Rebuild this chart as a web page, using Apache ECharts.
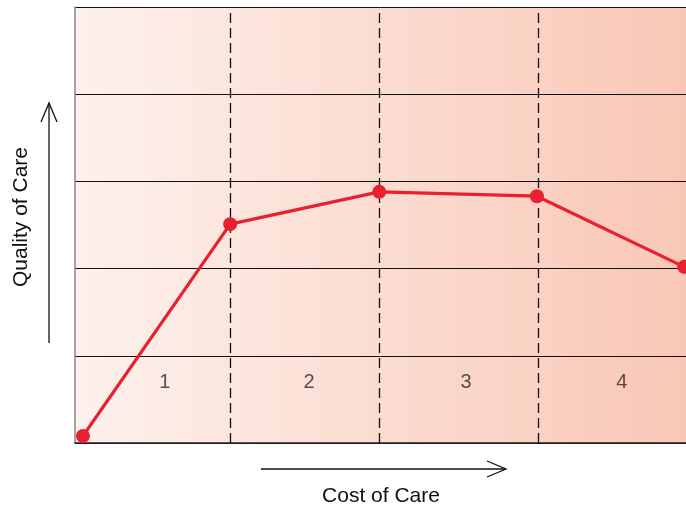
<!DOCTYPE html>
<html>
<head>
<meta charset="utf-8">
<script src="https://cdn.jsdelivr.net/npm/echarts@6/dist/echarts.min.js"></script>
<style>
  html, body { margin: 0; padding: 0; background: #ffffff; }
  #chart { width: 686px; height: 507px; }
</style>
</head>
<body>
<div id="chart"></div>
<script>
// Cost (x) vs quality (y) of care, in relative units
const costValues = [1.3, 25.4, 49.8, 75.6, 99.7];
const qualityValues = [0.08, 2.51, 2.88, 2.83, 2.02];
// Boundaries between the four cost zones
const zoneBoundaries = [25.4, 49.8, 75.8];
// Zone labels and their positions
const zoneLabels = ['1', '2', '3', '4'];
const zoneLabelX = [14.7, 38.3, 64.0, 89.5];
const zoneLabelY = 0.69;

const xAxisTitle = 'Cost of Care';
const yAxisTitle = 'Quality of Care';

const chart = echarts.init(document.getElementById('chart'), null, { renderer: 'canvas' });

const fontFamily = '"Liberation Sans", Arial, Helvetica, sans-serif';

chart.setOption({
  animation: false,
  backgroundColor: '#ffffff',
  grid: {
    left: 75,
    top: 7,
    right: 0,
    height: 436,
    show: true,
    borderWidth: 0,
    backgroundColor: new echarts.graphic.LinearGradient(0, 0, 1, 0, [
      { offset: 0, color: '#fdf1ed' },
      { offset: 0.5, color: '#fbdcd1' },
      { offset: 1, color: '#f9c7b6' }
    ])
  },
  xAxis: {
    type: 'value',
    min: 0,
    max: 100,
    axisLine: { show: true, lineStyle: { color: '#222', width: 1.5 } },
    axisTick: { show: false },
    axisLabel: { show: false },
    splitLine: { show: false }
  },
  yAxis: {
    type: 'value',
    min: 0,
    max: 5,
    interval: 1,
    axisLine: { show: true, onZero: false, lineStyle: { color: '#888', width: 1.5 } },
    axisTick: { show: false },
    axisLabel: { show: false },
    splitLine: { show: true, lineStyle: { color: '#111', width: 1 } }
  },
  series: [
    {
      type: 'line',
      data: costValues.map((x, i) => [x, qualityValues[i]]),
      symbol: 'circle',
      symbolSize: 14,
      lineStyle: { color: '#e8202f', width: 3.2 },
      itemStyle: { color: '#e8202f' },
      z: 5,
      markLine: {
        silent: true,
        symbol: ['none', 'none'],
        label: { show: false },
        lineStyle: { color: '#111', width: 1.3, type: [10, 5] },
        data: zoneBoundaries.map(x => ({ xAxis: x }))
      }
    },
    {
      type: 'scatter',
      symbolSize: 0,
      data: zoneLabelX.map((x, i) => ({ value: [x, zoneLabelY], name: zoneLabels[i] })),
      label: {
        show: true,
        position: 'inside',
        formatter: p => p.name,
        color: '#2a2a2a',
        fontSize: 20,
        fontFamily: fontFamily
      },
      z: 4
    }
  ],
  graphic: [
    // vertical arrow beside the quality axis
    { type: 'line', shape: { x1: 49, y1: 343, x2: 49, y2: 103 }, style: { stroke: '#111', lineWidth: 1.3 } },
    { type: 'polyline', shape: { points: [[41, 122], [49, 103], [57, 122]] }, style: { stroke: '#111', lineWidth: 1.3, fill: null } },
    // horizontal arrow above the cost axis title
    { type: 'line', shape: { x1: 261, y1: 469, x2: 506, y2: 469 }, style: { stroke: '#111', lineWidth: 1.3 } },
    { type: 'polyline', shape: { points: [[487, 461], [506, 469], [487, 477]] }, style: { stroke: '#111', lineWidth: 1.3, fill: null } },
    {
      type: 'text',
      x: 21, y: 217,
      rotation: Math.PI / 2,
      style: {
        text: yAxisTitle, fill: '#111', fontSize: 21, fontFamily: fontFamily,
        align: 'center', verticalAlign: 'middle'
      }
    },
    {
      type: 'text',
      x: 381, y: 496,
      style: {
        text: xAxisTitle, fill: '#111', fontSize: 21, fontFamily: fontFamily,
        align: 'center', verticalAlign: 'middle'
      }
    }
  ]
});
</script>
</body>
</html>
